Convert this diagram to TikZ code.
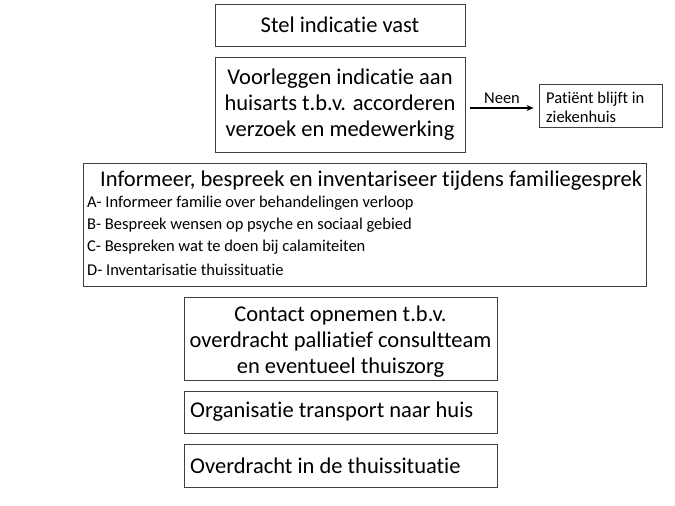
\documentclass[tikz,border=0pt]{standalone}
\usepackage{fontspec}
\setmainfont{Carlito}[Ligatures=NoCommon]
\usetikzlibrary{arrows.meta}
\definecolor{boxline}{HTML}{404040}
\begin{document}
\begin{tikzpicture}[x=1pt,y=-1pt,
  box/.style={draw=boxline,line width=0.9pt,rectangle,inner sep=0pt,align=center},
  big/.style={font=\fontsize{22.5}{26}\selectfont},
  title/.style={font=\fontsize{22.5}{26}\selectfont},
  mid/.style={font=\fontsize{16.5}{22}\selectfont},
  small/.style={font=\fontsize{16.5}{19}\selectfont},
  txt/.style={anchor=west,inner sep=0pt}]
\useasboundingbox (0,0) rectangle (675,506);
\node[box,big,minimum width=250pt,minimum height=42pt] (stel) at (340,25) {Stel indicatie vast};
\node[box,big,minimum width=250pt,minimum height=95pt] (voor) at (340,104.5) {Voorleggen indicatie aan\\huisarts t.b.v. accorderen\\verzoek en medewerking};
\node[box,minimum width=123pt,minimum height=43pt] (pat) at (600.5,105.5) {};
\node[txt,small,align=left] (patt) at (546,107) {Patiënt blijft in\\ziekenhuis};
\draw[-{Stealth[length=7pt,width=6pt]},line width=1.6pt,shorten <=5pt,shorten >=5pt] (voor.east |- 0,108) coordinate (a) -- (pat.west |- a) node[midway,above,small,yshift=0pt] (neen) {Neen};
\node[box,minimum width=563pt,minimum height=123pt] (info) at (364.5,224.5) {};
\node[txt,title] (t0) at (100,181) {Informeer, bespreek en inventariseer tijdens familiegesprek};
\node[txt,mid] (t1) at (87,203) {A- Informeer familie over behandelingen verloop};
\node[txt,mid] (t2) at (87,225) {B- Bespreek wensen op psyche en sociaal gebied};
\node[txt,mid] (t3) at (87,247.5) {C- Bespreken wat te doen bij calamiteiten};
\node[txt,mid] (t4) at (87,270) {D- Inventarisatie thuissituatie};
\node[box,minimum width=313pt,minimum height=83pt] (cont) at (340.5,338.5) {};
\node[big,align=center,inner sep=0pt] (contt) at (340.5,342) {Contact opnemen t.b.v.\\overdracht palliatief consultteam\\en eventueel thuiszorg};
\node[box,minimum width=313pt,minimum height=42pt] (org) at (340.5,412) {};
\node[txt,big] (orgt) at (190,412) {Organisatie transport naar huis};
\node[box,minimum width=313pt,minimum height=43pt] (over) at (340.5,465.5) {};
\node[txt,big] (overt) at (190,465.5) {Overdracht in de thuissituatie};
\end{tikzpicture}
\end{document}
